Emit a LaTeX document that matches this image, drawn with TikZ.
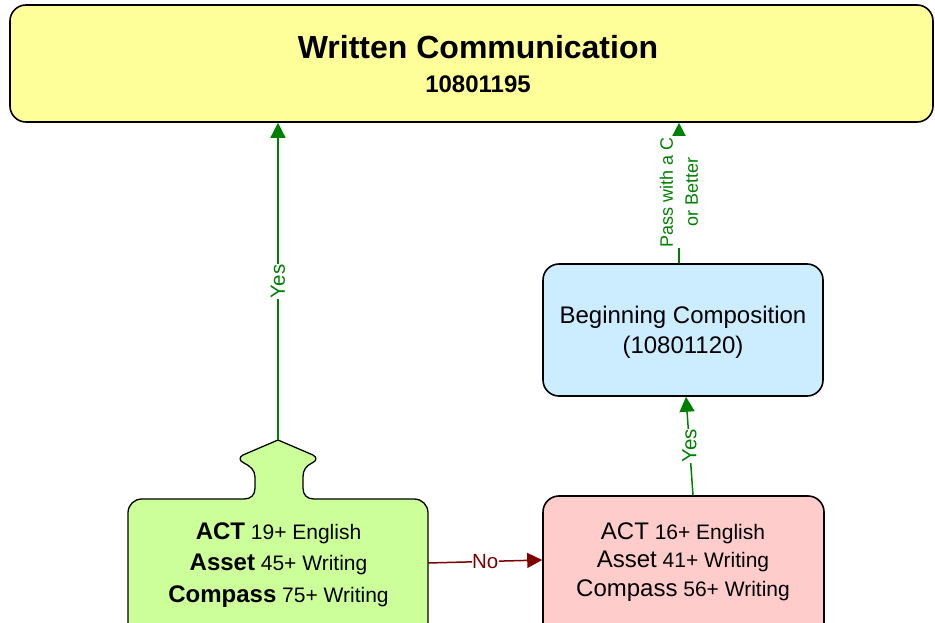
\documentclass[tikz,border=0pt]{standalone}
\usepackage{fontspec}
\setmainfont{Liberation Sans}
\usetikzlibrary{arrows.meta}
\definecolor{ylwfill}{HTML}{FFFF99}
\definecolor{bluefill}{HTML}{CCECFF}
\definecolor{pinkfill}{HTML}{FFCCCC}
\definecolor{greenfill}{HTML}{CCFF99}
\definecolor{lgreen}{HTML}{008000}
\definecolor{dred}{HTML}{800000}
\newcommand{\bigword}[1]{{\fontsize{24}{31.5}\selectfont #1}}
\begin{document}
\begin{tikzpicture}[x=1pt,y=-1pt,
  box/.style={draw=black, line width=1.6pt, rounded corners=16pt, inner sep=0pt, align=center},
  conn/.style={line width=1.5pt, draw=lgreen, -{Triangle[length=15pt,width=15pt]}},
  noconn/.style={line width=1.5pt, draw=dred, -{Triangle[length=15pt,width=15pt]}},
  lbl/.style={fill=white, inner sep=0.5pt, text=lgreen, font=\fontsize{20.5}{23}\selectfont, rotate=90, align=center},
  nolbl/.style={fill=white, inner sep=0.5pt, text=dred, font=\fontsize{20.5}{23}\selectfont}]
\useasboundingbox (0,0) rectangle (935,623);
\clip (0,0) rectangle (935,623);

% title box
\node[box, fill=ylwfill, minimum width=923pt, minimum height=117pt] (title) at (471.5,63.5) {};
\node[align=center, font=\bfseries\fontsize{32}{34}\selectfont] (titletxt) at (478,64)
  {Written Communication\\{\fontsize{24}{34}\selectfont 10801195}};

% blue box
\node[box, fill=bluefill, minimum width=280pt, minimum height=132pt] (blue) at (683,330) {};
\node[align=center, font=\fontsize{24}{30}\selectfont] (bluetxt) at (683,332)
  {Beginning Composition\\(10801120)};

% pink box (bottom cut by page edge)
\node[box, fill=pinkfill, minimum width=281pt, minimum height=144pt] (pink) at (683.5,568) {};
\node[align=center, font=\fontsize{21}{28.5}\selectfont] (pinktxt) at (683,562)
  {\bigword{ACT} 16+ English\\\bigword{Asset} 41+ Writing\\\bigword{Compass} 56+ Writing};

% green tab-arrow box
\draw[fill=greenfill, draw=black, line width=1.3pt]
  (128,640) -- (128,513) .. controls (128,505) and (134,499) .. (142,499)
  -- (244,499) .. controls (251,499) and (255,495) .. (255,488)
  -- (255,477) .. controls (255,470) and (250,466) .. (244,463)
  .. controls (239,461) and (239,457) .. (243,455)
  -- (278,440) -- (313,455)
  .. controls (317,457) and (317,461) .. (312,463)
  .. controls (306,466) and (303,470) .. (303,477)
  -- (303,488) .. controls (303,495) and (307,499) .. (314,499)
  -- (414,499) .. controls (422,499) and (428,505) .. (428,513)
  -- (428,640) -- cycle;
\coordinate (gtip) at (278,440);
\coordinate (gright) at (428,563);
\node[align=center, font=\fontsize{21}{31.5}\selectfont] (greentxt) at (278.5,565)
  {\bigword{\bfseries ACT} 19+ English\\\bigword{\bfseries Asset} 45+ Writing\\\bigword{\bfseries Compass} 75+ Writing};

% connectors
\draw[conn] (gtip) -- (gtip |- title.south) node[lbl, pos=0.5] (yes1) {Yes};
\draw[conn] ([xshift=-4pt]blue.north) -- ([xshift=-4pt]blue.north |- title.south)
  node[lbl, pos=0.507, font=\fontsize{18}{25}\selectfont] (pass) {Pass with a C\\or Better};
\draw[conn] ([xshift=9.5pt]pink.north) -- ([xshift=3pt]blue.south) node[lbl, pos=0.5] (yes2) {Yes};
\draw[noconn] (gright) -- ([yshift=8pt]pink.west) node[nolbl, pos=0.5] (no) {No};
\end{tikzpicture}
\end{document}
